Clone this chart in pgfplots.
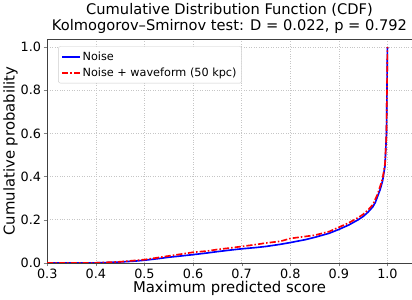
\documentclass[border=0pt]{standalone}
\usepackage{pgfplots}
\pgfplotsset{compat=1.18}
\usepackage{fontspec}
\setmainfont{DejaVu Sans}
\begin{document}
\begin{tikzpicture}
\begin{axis}[
  scale only axis, width=356pt, height=218pt,
  xmin=0.3, xmax=1.05, ymin=0, ymax=1.035,
  xtick={0.3,0.4,0.5,0.6,0.7,0.8,0.9,1.0},
  ytick={0,0.2,0.4,0.6,0.8,1.0},
  xticklabel style={yshift=1pt, /pgf/number format/.cd, fixed, fixed zerofill, precision=1},
  yticklabel style={xshift=1pt, /pgf/number format/.cd, fixed, fixed zerofill, precision=1},
  /pgf/number format/assume math mode=true,
  tick label style={font=\fontsize{12.5}{14}\selectfont},
  tick align=outside, xtick pos=bottom, ytick pos=left,
  major tick length=3.5pt,
  grid=major, grid style={dotted, gray!45, line width=0.5pt},
  axis line style={black!75},
  xlabel={Maximum predicted score}, ylabel={Cumulative probability},
  label style={font=\fontsize{14.5}{16}\selectfont},
  xlabel style={yshift=4pt}, ylabel style={yshift=-4pt},
  title={Cumulative Distribution Function (CDF)\\Kolmogorov--Smirnov test: D = 0.022, p = 0.792},
  title style={font=\fontsize{14.3}{16}\selectfont, align=center, yshift=-4pt},
  legend pos=north west,
  legend style={font=\fontsize{11}{13}\selectfont, draw=black!20, rounded corners=2pt, inner sep=3pt, row sep=2pt},
  legend cell align=left,
]
\addplot[blue, line width=1.6pt] coordinates {
(0.3,0) (0.40,0) (0.42,0.001) (0.45,0.004) (0.48,0.008) (0.50,0.012) (0.53,0.02) (0.55,0.026) (0.58,0.033) (0.60,0.038) (0.63,0.046) (0.65,0.052) (0.68,0.060) (0.70,0.065) (0.73,0.071) (0.75,0.076) (0.78,0.086) (0.80,0.094) (0.83,0.107) (0.85,0.118) (0.88,0.137) (0.90,0.155) (0.92,0.175) (0.94,0.200) (0.95,0.215) (0.96,0.235) (0.97,0.26) (0.975,0.28) (0.98,0.31) (0.985,0.34) (0.99,0.38) (0.995,0.45) (0.998,0.6) (1.0,1.0)
};
\addlegendentry{Noise}
\addplot[red, line width=1.6pt, dash pattern=on 6pt off 2pt on 1.5pt off 2pt] coordinates {
(0.3,0) (0.40,0) (0.45,0.005) (0.50,0.015) (0.53,0.025) (0.55,0.032) (0.58,0.042) (0.60,0.049) (0.63,0.055) (0.65,0.062) (0.68,0.070) (0.70,0.076) (0.73,0.085) (0.75,0.092) (0.78,0.100) (0.80,0.113) (0.83,0.122) (0.85,0.128) (0.88,0.145) (0.90,0.165) (0.92,0.185) (0.94,0.21) (0.95,0.225) (0.96,0.245) (0.97,0.27) (0.98,0.32) (0.99,0.39) (0.995,0.46) (0.998,0.6) (1.0,1.0)
};
\addlegendentry{Noise + waveform (50 kpc)}
\end{axis}
\end{tikzpicture}
\end{document}
